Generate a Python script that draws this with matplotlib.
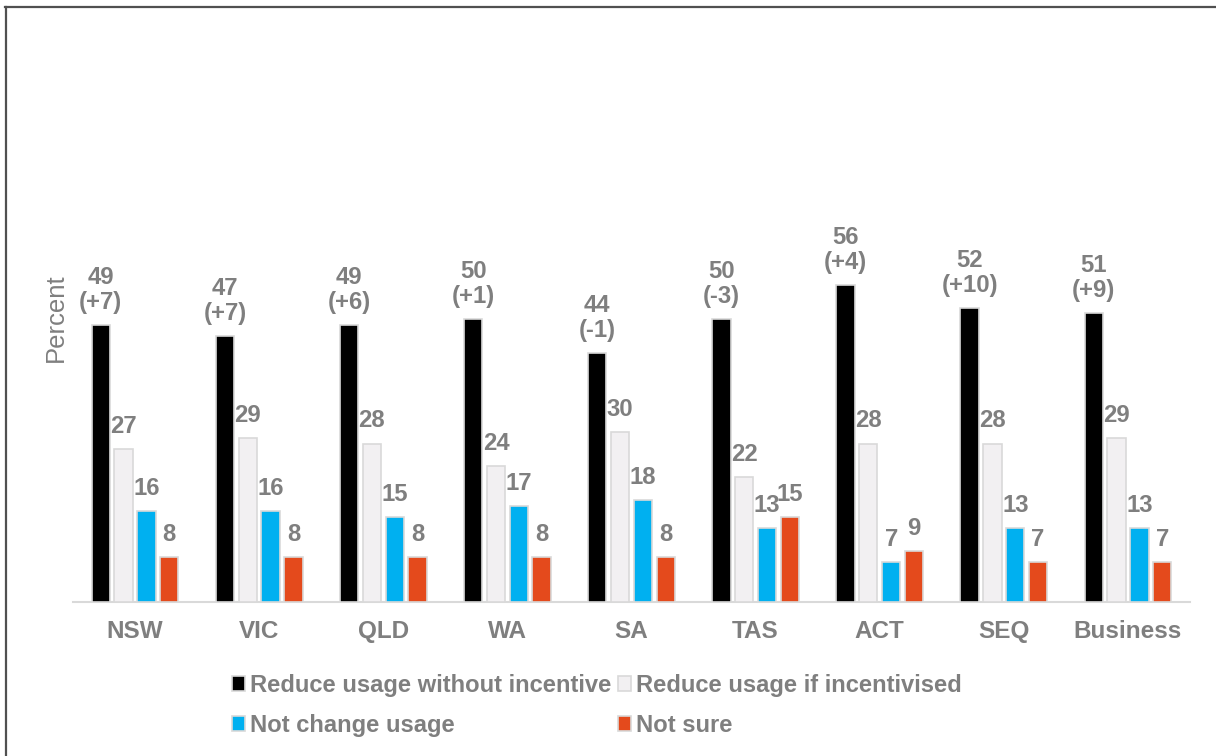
import numpy as np
import matplotlib
matplotlib.use('Agg')
import matplotlib.pyplot as plt
from matplotlib.lines import Line2D

plt.rcParams['font.family'] = ['Liberation Sans', 'DejaVu Sans']

# Data
regions = ['NSW', 'VIC', 'QLD', 'WA', 'SA', 'TAS', 'ACT', 'SEQ', 'Business']
reduce_no_incentive = [49, 47, 49, 50, 44, 50, 56, 52, 51]
change_vs_last = ['+7', '+7', '+6', '+1', '-1', '-3', '+4', '+10', '+9']
reduce_if_incentivised = [27, 29, 28, 24, 30, 22, 28, 28, 29]
not_change = [16, 16, 15, 17, 18, 13, 7, 13, 13]
not_sure = [8, 8, 8, 8, 8, 15, 9, 7, 7]

series_names = ['Reduce usage without incentive', 'Reduce usage if incentivised',
                'Not change usage', 'Not sure']
series_colors = ['#000000', '#f2f0f2', '#00b0f0', '#e44a1c']

text_gray = '#7f7f7f'
W, H = 1216, 756

fig = plt.figure(figsize=(W / 100, H / 100), dpi=100)
ax = fig.add_axes([73 / W, (H - 602) / H, 1117 / W, 566 / H])

x = np.arange(len(regions))
width = 0.148
step = 0.184
offsets = (np.arange(4) - 1.5) * step
all_series = [reduce_no_incentive, reduce_if_incentivised, not_change, not_sure]

handles = []
for i, (vals, name, col) in enumerate(zip(all_series, series_names, series_colors)):
    bars = ax.bar(x + offsets[i], vals, width, color=col, edgecolor='#d9d9d9',
                  linewidth=1.2, label=name, zorder=3)
    handles.append(bars)
    for j, b in enumerate(bars):
        if i == 0:
            txt = f"{vals[j]}\n({change_vs_last[j]})"
        else:
            txt = f"{vals[j]}"
        ax.annotate(txt, (b.get_x() + b.get_width() / 2, b.get_height()),
                    xytext=(0, 8), textcoords='offset points',
                    ha='center', va='bottom', fontsize=17.2, fontweight='bold',
                    color=text_gray, linespacing=1.1)

ax.set_xlim(-0.5, len(regions) - 0.5)
ax.set_ylim(0, 100)
ax.set_xticks(x)
ax.set_xticklabels(regions, fontsize=17.5, fontweight='bold', color=text_gray)
ax.tick_params(axis='x', length=0, pad=13)
ax.set_yticks([])
for s in ['top', 'right', 'left']:
    ax.spines[s].set_visible(False)
ax.spines['bottom'].set_color('#d9d9d9')
ax.spines['bottom'].set_linewidth(1.5)

fig.text(56 / W, 1 - 318 / H, 'Percent', rotation=90, ha='center', va='center',
         fontsize=18.5, color=text_gray)

# legend filled row by row: order handles for column-wise layout
order = [0, 2, 1, 3]
leg = fig.legend([handles[k] for k in order], [series_names[k] for k in order],
                 loc='upper left', bbox_to_anchor=(220 / W, 1 - 662 / H),
                 ncol=2, frameon=False,
                 prop={'weight': 'bold', 'size': 17.1},
                 handlelength=0.55, handleheight=0.55, handletextpad=0.2,
                 columnspacing=0.3, labelspacing=0.72, borderpad=0)
for t in leg.get_texts():
    t.set_color(text_gray)

# frame lines (top and left only, as in the source)
fig.add_artist(Line2D([5 / W, 1], [1 - 6.5 / H, 1 - 6.5 / H], color='#505050', lw=1.6,
                      transform=fig.transFigure))
fig.add_artist(Line2D([6 / W, 6 / W], [0, 1 - 6.5 / H], color='#505050', lw=1.6,
                      transform=fig.transFigure))

fig.savefig('out.png', dpi=100)
